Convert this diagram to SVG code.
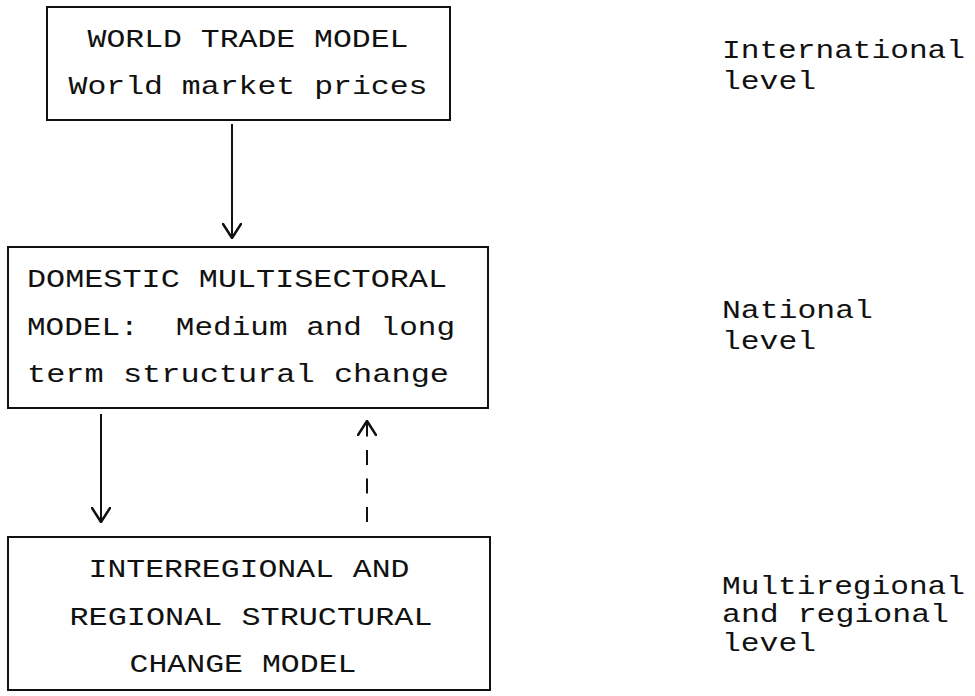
<svg xmlns="http://www.w3.org/2000/svg" width="975" height="696" viewBox="0 0 975 696">
  <style>
    .box { fill: #ffffff; stroke: #111111; stroke-width: 2; }
    .t { font-family: "Liberation Mono", "DejaVu Sans Mono", monospace; font-size: 26.5px; fill: #111111; }
    .c { text-anchor: middle; }
    .conn { stroke: #111111; stroke-width: 2; fill: none; }
    .dash { stroke-dasharray: 15 13.5; }
  </style>
  <defs>
    <marker id="arrow" viewBox="0 0 16 20" refX="15" refY="10" markerWidth="16" markerHeight="20" markerUnits="userSpaceOnUse" orient="auto">
      <path d="M1,1 L15,10 L1,19" fill="none" stroke="#111111" stroke-width="2.5" stroke-dasharray="none" stroke-linecap="round" stroke-linejoin="round"/>
    </marker>
  </defs>
  <rect width="975" height="696" fill="#ffffff"/>

  <g id="world-trade-model">
    <rect class="box" x="47" y="7" width="403" height="113"/>
    <text class="t c" x="248" y="47" textLength="321" lengthAdjust="spacingAndGlyphs">WORLD TRADE MODEL</text>
    <text class="t c" x="248" y="94" textLength="359" lengthAdjust="spacingAndGlyphs">World market prices</text>
  </g>

  <g id="domestic-model">
    <rect class="box" x="8" y="247" width="480" height="161"/>
    <text class="t" x="27" y="287" textLength="420" lengthAdjust="spacingAndGlyphs">DOMESTIC MULTISECTORAL</text>
    <text class="t" x="27" y="335" textLength="428" lengthAdjust="spacingAndGlyphs" xml:space="preserve">MODEL:  Medium and long</text>
    <text class="t" x="27" y="382" textLength="422" lengthAdjust="spacingAndGlyphs">term structural change</text>
  </g>

  <g id="regional-model">
    <rect class="box" x="8" y="537" width="482" height="153"/>
    <text class="t c" x="249" y="577" textLength="321" lengthAdjust="spacingAndGlyphs">INTERREGIONAL AND</text>
    <text class="t c" x="251" y="625" textLength="363" lengthAdjust="spacingAndGlyphs">REGIONAL STRUCTURAL</text>
    <text class="t c" x="243" y="672" textLength="227" lengthAdjust="spacingAndGlyphs">CHANGE MODEL</text>
  </g>

  <g id="label-international">
    <text class="t" x="722" y="58" textLength="243" lengthAdjust="spacingAndGlyphs">International</text>
    <text class="t" x="722" y="89" textLength="94" lengthAdjust="spacingAndGlyphs">level</text>
  </g>

  <g id="label-national">
    <text class="t" x="722" y="318" textLength="151" lengthAdjust="spacingAndGlyphs">National</text>
    <text class="t" x="722" y="349" textLength="94" lengthAdjust="spacingAndGlyphs">level</text>
  </g>

  <g id="label-regional">
    <text class="t" x="722" y="594" textLength="243" lengthAdjust="spacingAndGlyphs">Multiregional</text>
    <text class="t" x="722" y="622" textLength="227" lengthAdjust="spacingAndGlyphs">and regional</text>
    <text class="t" x="722" y="651" textLength="94" lengthAdjust="spacingAndGlyphs">level</text>
  </g>

  <g id="connectors">
    <line class="conn" x1="232" y1="124" x2="232" y2="238" marker-end="url(#arrow)"/>
    <line class="conn" x1="101" y1="414" x2="101" y2="522" marker-end="url(#arrow)"/>
    <line class="conn dash" x1="367" y1="522" x2="367" y2="421" marker-end="url(#arrow)"/>
  </g>
</svg>
